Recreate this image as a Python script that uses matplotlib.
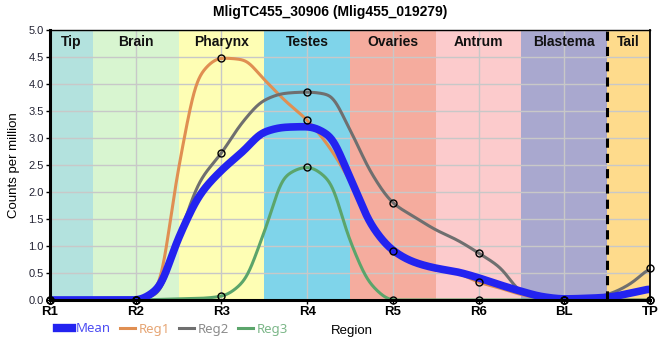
import numpy as np
import matplotlib
matplotlib.use("Agg")
import matplotlib.pyplot as plt
from matplotlib.lines import Line2D

# regions along the body axis
regions = ["R1", "R2", "R3", "R4", "R5", "R6", "BL", "TP"]
tissues = ["Tip", "Brain", "Pharynx", "Testes", "Ovaries", "Antrum", "Blastema", "Tail"]
tissue_edges = [0, 0.5, 1.5, 2.5, 3.5, 4.5, 5.5, 6.5, 7]
tissue_colors = ["#b3e2de", "#d8f5d0", "#fefeb4", "#7fd4ea",
                 "#f5ac9e", "#fccbcc", "#a9a8cf", "#fedb8c"]

# smoothed profiles read at quarter-region steps (every 4th value is a region)
step = 0.25
reg1 = [0, 0, 0, 0, 0, 0.22, 2.45, 4.17, 4.48, 4.45, 4.08, 3.68, 3.33,
        2.85, 2.2, 1.42, 0.9, 0.68, 0.57, 0.5, 0.33, 0.22, 0.1, 0.02,
        0, 0, 0, 0, 0]
reg2 = [0, 0, 0, 0, 0, 0.12, 1.15, 2.2, 2.72, 3.3, 3.7, 3.83, 3.85,
        3.8, 3.15, 2.35, 1.8, 1.54, 1.3, 1.11, 0.87, 0.6, 0.15, 0.02,
        0, 0.02, 0.1, 0.28, 0.6]
reg3 = [0, 0, 0, 0, 0, 0.01, 0.02, 0.03, 0.07, 0.33, 1.26, 2.3, 2.46,
        2.22, 1.1, 0.28, 0, 0, 0, 0, 0, 0, 0, 0,
        0, 0, 0, 0, 0]
mean = [0, 0, 0, 0, 0, 0.2, 1.15, 1.95, 2.4, 2.75, 3.11, 3.2, 3.21,
        3.05, 2.27, 1.39, 0.92, 0.7, 0.59, 0.52, 0.41, 0.28, 0.16, 0.06,
        0.02, 0.03, 0.05, 0.12, 0.21]


def pchip(x, y, xs):
    x = np.asarray(x, float)
    y = np.asarray(y, float)
    h = np.diff(x)
    d = np.diff(y) / h
    m = np.zeros_like(y)
    m[0], m[-1] = d[0], d[-1]
    for k in range(1, len(x) - 1):
        if d[k - 1] * d[k] > 0:
            w1 = 2 * h[k] + h[k - 1]
            w2 = h[k] + 2 * h[k - 1]
            m[k] = (w1 + w2) / (w1 / d[k - 1] + w2 / d[k])
    idx = np.clip(np.searchsorted(x, xs) - 1, 0, len(x) - 2)
    t = (xs - x[idx]) / h[idx]
    h00 = 2 * t**3 - 3 * t**2 + 1
    h10 = t**3 - 2 * t**2 + t
    h01 = -2 * t**3 + 3 * t**2
    h11 = t**3 - t**2
    return (h00 * y[idx] + h10 * h[idx] * m[idx]
            + h01 * y[idx + 1] + h11 * h[idx] * m[idx + 1])


def smooth_curve(xk, yk, xs, sigma=0.045):
    # light gaussian pass over the pchip curve to soften the knots
    ys = pchip(xk, yk, xs)
    dx = xs[1] - xs[0]
    n = int(3 * sigma / dx)
    k = np.exp(-0.5 * (np.arange(-n, n + 1) * dx / sigma) ** 2)
    k /= k.sum()
    pad = np.concatenate([ys[n:0:-1], ys, ys[-2:-n - 2:-1]])
    return np.convolve(pad, k, mode="valid")


plt.rcParams["font.family"] = ["Liberation Sans", "DejaVu Sans"]

fig = plt.figure(figsize=(6.6, 3.6), dpi=100)
ax = fig.add_axes([50 / 660, 60 / 360, 600 / 660, 270 / 360])

# tissue background bands and labels
for i, name in enumerate(tissues):
    ax.axvspan(tissue_edges[i], tissue_edges[i + 1], color=tissue_colors[i], lw=0, zorder=0)
    ax.text((tissue_edges[i] + tissue_edges[i + 1]) / 2, 4.78, name, ha="center", va="center",
            fontsize=10, fontweight="bold", color="#111111", zorder=5)

ax.grid(True, color="#c8c8c8", lw=1, zorder=1)
ax.set_axisbelow(False)
for gl in ax.get_xgridlines() + ax.get_ygridlines():
    gl.set_zorder(1)

ax.axvline(6.5, color="black", lw=2.2, ls=(0, (3, 2)), zorder=6)

xk = np.arange(len(mean)) * step
xs = np.linspace(0, xk[-1], 1401)
ax.plot(xs, smooth_curve(xk, reg1, xs), color="#e08f52", lw=2.2, zorder=3)
ax.plot(xs, smooth_curve(xk, reg2, xs), color="#6f6f6f", lw=2.2, zorder=3)
ax.plot(xs, smooth_curve(xk, reg3, xs), color="#5ba56b", lw=2.2, zorder=3)
ax.plot(xs, smooth_curve(xk, mean, xs), color="#2323f0", lw=5.5, zorder=4,
        solid_capstyle="butt")

xr = np.arange(len(regions))
for series in (reg1, reg2, reg3):
    ax.plot(xr, series[::4], ls="none", marker="o", ms=5, mfc="none", mec="black",
            mew=1, zorder=7, clip_on=False)

ax.set_xlim(0, 7)
ax.set_ylim(0, 5)
ax.set_xticks(xr)
ax.set_xticklabels(regions, fontsize=9.5, fontweight="bold")
ax.set_yticks(np.arange(0, 5.01, 0.5))
ax.set_yticklabels([f"{v:.1f}" for v in np.arange(0, 5.01, 0.5)], fontsize=8, color="#222233")
ax.tick_params(axis="both", length=3, width=1, pad=1.5)
ax.set_ylabel("Counts per million", fontsize=9.5, labelpad=6)

ax.spines["left"].set_linewidth(2.2)
ax.spines["bottom"].set_linewidth(2.2)
ax.spines["top"].set_linewidth(1)
ax.spines["right"].set_linewidth(1.3)
for s in ax.spines.values():
    s.set_zorder(8)

fig.suptitle("MligTC455_30906 (Mlig455_019279)", fontsize=10, fontweight="bold",
             x=0.5, y=0.985)

# legend below the axis, text coloured like the lines
handles = [Line2D([], [], color="#2323f0", lw=6),
           Line2D([], [], color="#e08f52", lw=2.2),
           Line2D([], [], color="#6f6f6f", lw=2.2),
           Line2D([], [], color="#5ba56b", lw=2.2)]
names = ["Mean", "Reg1", "Reg2", "Reg3"]
leg = fig.legend(handles, names, loc="center left", bbox_to_anchor=(48 / 660, 1 - 329 / 360),
                 ncol=4, frameon=False, handlelength=1.1, handletextpad=0.3,
                 columnspacing=0.7, borderpad=0.2,
                 prop={"family": ["Noto Sans", "DejaVu Sans"], "size": 9.5})
for txt, h in zip(leg.get_texts(), handles):
    txt.set_color(h.get_color())
    txt.set_alpha(0.8)

fig.text(352 / 660, 1 - 331 / 360, "Region", ha="center", va="center", fontsize=9.5)

fig.savefig("out.png", dpi=100)
